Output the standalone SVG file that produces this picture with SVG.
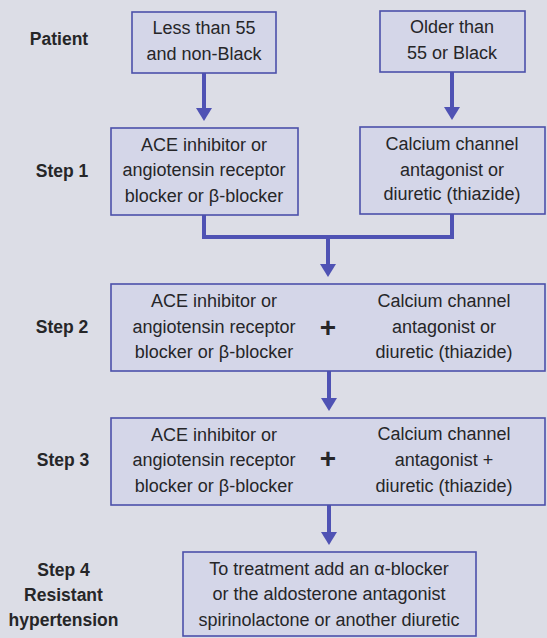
<svg xmlns="http://www.w3.org/2000/svg" width="547" height="638" viewBox="0 0 547 638">
<style>
  .bg { fill: #dcdde6; }
  .box { fill: #d4d6e8; stroke: #4c50aa; stroke-width: 1.6; }
  .txt { font-family: "Liberation Sans", Arial, sans-serif; font-size: 18px; fill: #262628; text-anchor: middle; }
  .lbl { font-family: "Liberation Sans", Arial, sans-serif; font-size: 17.5px; font-weight: bold; fill: #262628; text-anchor: middle; }
  .plus { font-family: "Liberation Sans", Arial, sans-serif; font-size: 28px; font-weight: bold; fill: #262628; text-anchor: middle; }
  .conn { fill: none; stroke: #4f52b4; stroke-width: 4; }
</style>
<defs>
  <marker id="ah" markerUnits="userSpaceOnUse" markerWidth="14" markerHeight="16" viewBox="0 0 14 16" refX="0" refY="8" orient="auto">
    <path d="M0,0 L13,8 L0,16 z" fill="#4f52b4"/>
  </marker>
</defs>
<rect class="bg" x="0" y="0" width="547" height="638"/>

<g id="labels">
  <text class="lbl" x="59" y="45">Patient</text>
  <text class="lbl" x="62" y="177">Step 1</text>
  <text class="lbl" x="62" y="333">Step 2</text>
  <text class="lbl" x="63" y="466">Step 3</text>
  <text class="lbl" x="63.5" y="576">Step 4</text>
  <text class="lbl" x="63.5" y="601">Resistant</text>
  <text class="lbl" x="63.5" y="626">hypertension</text>
</g>

<g id="connectors">
  <path class="conn" d="M204,73 V108" marker-end="url(#ah)"/>
  <path class="conn" d="M452,72 V107" marker-end="url(#ah)"/>
  <path class="conn" d="M204,215 V237 H452 V214"/>
  <path class="conn" d="M328,237 V264" marker-end="url(#ah)"/>
  <path class="conn" d="M329,371 V398" marker-end="url(#ah)"/>
  <path class="conn" d="M329,505 V532" marker-end="url(#ah)"/>
</g>

<g id="patient-young">
  <rect class="box" x="132" y="12" width="144" height="61"/>
  <text class="txt" x="204" y="34">Less than 55</text>
  <text class="txt" x="204" y="60">and non-Black</text>
</g>

<g id="patient-old">
  <rect class="box" x="380" y="11" width="145" height="61"/>
  <text class="txt" x="452" y="33">Older than</text>
  <text class="txt" x="452" y="59">55 or Black</text>
</g>

<g id="step1-ace">
  <rect class="box" x="111" y="128" width="187" height="87"/>
  <text class="txt" x="204" y="151">ACE inhibitor or</text>
  <text class="txt" x="204" y="176">angiotensin receptor</text>
  <text class="txt" x="204" y="202">blocker or β-blocker</text>
</g>

<g id="step1-ccb">
  <rect class="box" x="360" y="127" width="185" height="87"/>
  <text class="txt" x="452" y="150">Calcium channel</text>
  <text class="txt" x="452" y="175.5">antagonist or</text>
  <text class="txt" x="452" y="200">diuretic (thiazide)</text>
</g>

<g id="step2">
  <rect class="box" x="111" y="284" width="434" height="87"/>
  <text class="txt" x="214" y="307">ACE inhibitor or</text>
  <text class="txt" x="214" y="333">angiotensin receptor</text>
  <text class="txt" x="214" y="358">blocker or β-blocker</text>
  <text class="plus" x="328" y="337">+</text>
  <text class="txt" x="444" y="307">Calcium channel</text>
  <text class="txt" x="444" y="333">antagonist or</text>
  <text class="txt" x="444" y="358">diuretic (thiazide)</text>
</g>

<g id="step3">
  <rect class="box" x="111" y="418" width="434" height="87"/>
  <text class="txt" x="214" y="441">ACE inhibitor or</text>
  <text class="txt" x="214" y="466">angiotensin receptor</text>
  <text class="txt" x="214" y="492">blocker or β-blocker</text>
  <text class="plus" x="328" y="468">+</text>
  <text class="txt" x="444" y="440">Calcium channel</text>
  <text class="txt" x="444" y="466">antagonist +</text>
  <text class="txt" x="444" y="492">diuretic (thiazide)</text>
</g>

<g id="step4">
  <rect class="box" x="183" y="552" width="293" height="84"/>
  <text class="txt" x="329" y="575">To treatment add an α-blocker</text>
  <text class="txt" x="329" y="600">or the aldosterone antagonist</text>
  <text class="txt" x="329" y="626">spirinolactone or another diuretic</text>
</g>
</svg>
